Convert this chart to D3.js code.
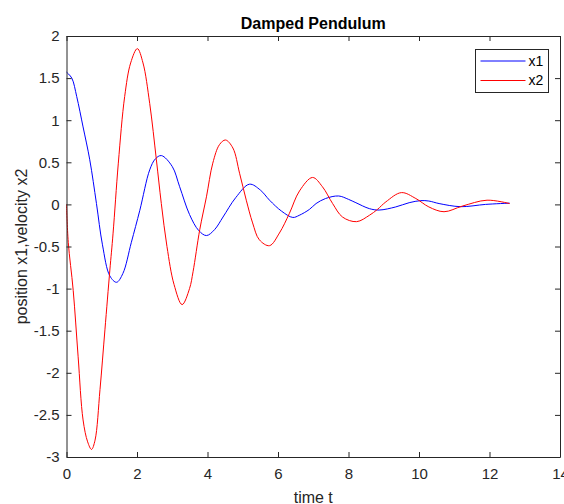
<!DOCTYPE html>
<html>
<head>
<meta charset="utf-8">
<script src="https://cdn.jsdelivr.net/npm/d3@7"></script>
<style>
  html, body { margin: 0; padding: 0; background: #fff; }
  svg { display: block; font-family: "Liberation Sans", Arial, sans-serif; }
</style>
</head>
<body>
<div id="chart"></div>
<script>
// values
const tX1 = [0, 0.15, 0.29, 0.47, 0.66, 0.85, 1.02, 1.23, 1.42, 1.6, 1.84, 2.08, 2.36, 2.52, 2.69, 3.0, 3.21, 3.49, 3.75, 3.97, 4.2, 4.44, 4.8, 5.19, 5.5, 5.76, 6.1, 6.42, 6.6, 6.89, 7.08, 7.35, 7.72, 8.0, 8.21, 8.59, 8.87, 9.34, 9.72, 10.05, 10.28, 10.57, 11.18, 11.89, 12.57];
const x1 = [1.571, 1.5, 1.28, 0.92, 0.53, 0.01, -0.48, -0.85, -0.925, -0.82, -0.45, -0.07, 0.41, 0.54, 0.58, 0.45, 0.21, -0.12, -0.31, -0.37, -0.3, -0.15, 0.08, 0.24, 0.17, 0.05, -0.08, -0.155, -0.13, -0.06, 0.01, 0.07, 0.1, 0.06, 0.02, -0.05, -0.067, -0.03, 0.02, 0.045, 0.04, 0.01, -0.027, 0.0, 0.015];

const tX2 = [0, 0.05, 0.19, 0.33, 0.47, 0.6, 0.71, 0.81, 0.95, 1.09, 1.23, 1.32, 1.47, 1.65, 1.82, 2.01, 2.17, 2.36, 2.55, 2.69, 2.85, 3.05, 3.28, 3.49, 3.59, 3.78, 3.97, 4.15, 4.34, 4.51, 4.72, 4.91, 5.1, 5.28, 5.47, 5.76, 6.04, 6.32, 6.61, 6.98, 7.26, 7.55, 7.83, 8.23, 8.59, 8.82, 9.06, 9.5, 9.91, 10.28, 10.71, 11.23, 11.93, 12.57];
const x2 = [0, -0.45, -1.02, -1.81, -2.56, -2.82, -2.91, -2.8, -2.2, -1.49, -0.78, -0.35, 0.49, 1.28, 1.68, 1.85, 1.68, 1.2, 0.53, 0.01, -0.5, -0.95, -1.19, -1.0, -0.8, -0.3, 0.09, 0.49, 0.71, 0.765, 0.67, 0.37, 0.05, -0.22, -0.42, -0.49, -0.34, -0.11, 0.16, 0.32, 0.21, 0.01, -0.15, -0.205, -0.13, -0.06, 0.03, 0.14, 0.07, -0.03, -0.087, -0.02, 0.05, 0.01];

const xTicks = [0, 2, 4, 6, 8, 10, 12, 14];
const yTicks = [-3, -2.5, -2, -1.5, -1, -0.5, 0, 0.5, 1, 1.5, 2];
const seriesNames = ['x1', 'x2'];
const seriesColors = ['#0000ff', '#ff0000'];

const width = 564;
const height = 504;
const margin = { top: 36, right: 4, bottom: 47, left: 66.5 };
const innerWidth = width - margin.left - margin.right;
const innerHeight = height - margin.top - margin.bottom;
const axisColor = '#262626';

const svg = d3.select('#chart')
  .append('svg')
  .attr('width', width)
  .attr('height', height);

svg.append('rect')
  .attr('width', width)
  .attr('height', height)
  .attr('fill', '#fff');

const g = svg.append('g')
  .attr('transform', `translate(${margin.left},${margin.top})`);

const xScale = d3.scaleLinear().domain([0, 14]).range([0, innerWidth]);
const yScale = d3.scaleLinear().domain([-3, 2]).range([innerHeight, 0]);

// lines first, box on top
const line = d3.line()
  .x((d) => xScale(d[0]))
  .y((d) => yScale(d[1]))
  .curve(d3.curveCatmullRom.alpha(0.5));

const series = [
  d3.zip(tX1, x1),
  d3.zip(tX2, x2),
];

series.forEach((data, i) => {
  g.append('path')
    .attr('fill', 'none')
    .attr('stroke', seriesColors[i])
    .attr('stroke-width', 1)
    .attr('d', line(data));
});

// axes: ticks point inward, box on all four sides
const styleAxis = (sel) => {
  sel.select('.domain').attr('stroke', axisColor);
  sel.selectAll('.tick line').attr('stroke', axisColor);
  sel.selectAll('.tick text')
    .attr('fill', axisColor)
    .attr('font-size', '15px');
};

g.append('g')
  .attr('transform', `translate(0,${innerHeight})`)
  .call(d3.axisBottom(xScale).tickValues(xTicks).tickFormat(d3.format('d'))
    .tickSizeInner(-5).tickSizeOuter(0).tickPadding(11))
  .call(styleAxis)
  .call((a) => a.selectAll('.tick text').attr('dy', '0.71em'));

g.append('g')
  .call(d3.axisLeft(yScale).tickValues(yTicks).tickFormat((d) => String(d))
    .tickSizeInner(-5).tickSizeOuter(0).tickPadding(7))
  .call(styleAxis);

g.append('g')
  .call(d3.axisTop(xScale).tickValues(xTicks).tickFormat('')
    .tickSizeInner(-5).tickSizeOuter(0))
  .call(styleAxis);

g.append('g')
  .attr('transform', `translate(${innerWidth},0)`)
  .call(d3.axisRight(yScale).tickValues(yTicks).tickFormat('')
    .tickSizeInner(-5).tickSizeOuter(0))
  .call(styleAxis);

// title and labels
svg.append('text')
  .attr('x', margin.left + innerWidth / 2)
  .attr('y', 29)
  .attr('text-anchor', 'middle')
  .attr('font-size', '16px')
  .attr('font-weight', 'bold')
  .attr('fill', '#000')
  .text('Damped Pendulum');

svg.append('text')
  .attr('x', margin.left + innerWidth / 2)
  .attr('y', 503)
  .attr('text-anchor', 'middle')
  .attr('font-size', '16px')
  .attr('fill', axisColor)
  .text('time t');

svg.append('text')
  .attr('transform', `translate(27,${margin.top + innerHeight / 2}) rotate(-90)`)
  .attr('text-anchor', 'middle')
  .attr('font-size', '16px')
  .attr('fill', axisColor)
  .text('position x1,velocity x2');

// legend
const legend = svg.append('g')
  .attr('transform', 'translate(475.5,49.5)');

legend.append('rect')
  .attr('width', 73)
  .attr('height', 43)
  .attr('fill', '#fff')
  .attr('stroke', axisColor)
  .attr('stroke-width', 1);

seriesNames.forEach((name, i) => {
  const y = 11.5 + i * 19.5;
  legend.append('line')
    .attr('x1', 5)
    .attr('x2', 50)
    .attr('y1', y)
    .attr('y2', y)
    .attr('stroke', seriesColors[i])
    .attr('stroke-width', 1);
  legend.append('text')
    .attr('x', 53)
    .attr('y', y)
    .attr('dy', '0.35em')
    .attr('font-size', '14px')
    .attr('fill', '#000')
    .text(name);
});
</script>
</body>
</html>
